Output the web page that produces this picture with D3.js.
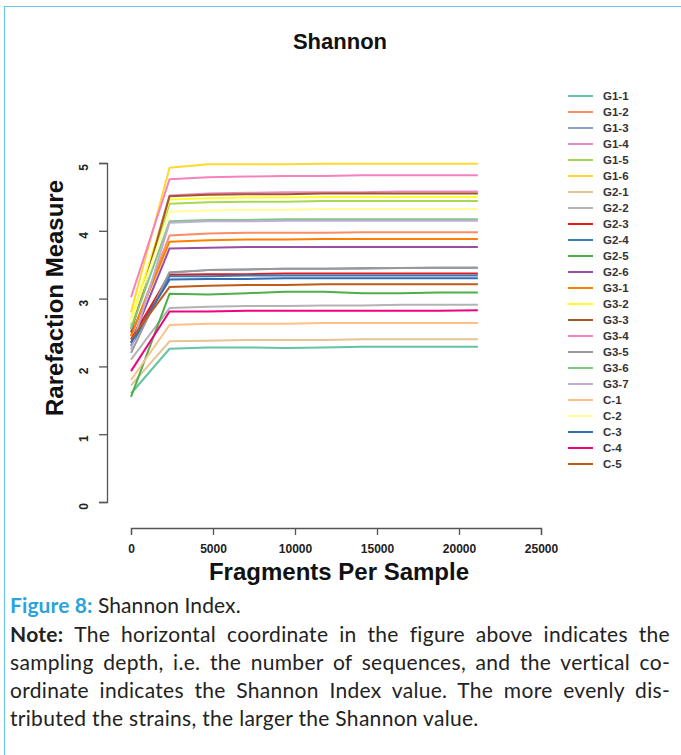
<!DOCTYPE html>
<html>
<head>
<meta charset="utf-8">
<script src="https://cdn.jsdelivr.net/npm/d3@7"></script>
<style>
  body { margin: 0; background: #fff; }
  svg { display: block; }
</style>
</head>
<body>
<svg id="chart"></svg>
<script>
const width = 681;
const height = 755;

// sequencing depths (x)
const depths = [1, 2350, 4700, 7050, 9400, 11750, 14100, 16450, 18800, 21150];

const samples = ["G1-1", "G1-2", "G1-3", "G1-4", "G1-5", "G1-6",
  "G2-1", "G2-2", "G2-3", "G2-4", "G2-5", "G2-6",
  "G3-1", "G3-2", "G3-3", "G3-4", "G3-5", "G3-6", "G3-7",
  "C-1", "C-2", "C-3", "C-4", "C-5"];

const colors = ["#66c2a5", "#fc8d62", "#8da0cb", "#e78ac3", "#a6d854", "#ffd92f",
  "#e5c494", "#b3b3b3", "#e41a1c", "#377eb8", "#4daf4a", "#984ea3",
  "#ff7f00", "#ffff33", "#a65628", "#f781bf", "#999999", "#7fc97f", "#beaed4",
  "#fdc086", "#ffff99", "#386cb0", "#f0027f", "#bf5b17"];

// shannon value at each depth, one row per sample
const shannon = [
  [1.60, 2.26, 2.28, 2.28, 2.27, 2.28, 2.29, 2.29, 2.29, 2.29],
  [2.45, 3.93, 3.96, 3.97, 3.97, 3.97, 3.98, 3.98, 3.98, 3.98],
  [2.30, 3.38, 3.42, 3.43, 3.44, 3.44, 3.44, 3.45, 3.45, 3.45],
  [2.55, 4.52, 4.55, 4.56, 4.57, 4.57, 4.57, 4.58, 4.58, 4.58],
  [2.60, 4.40, 4.42, 4.43, 4.43, 4.44, 4.44, 4.44, 4.44, 4.44],
  [2.80, 4.93, 4.98, 4.98, 4.98, 4.99, 4.99, 4.99, 4.99, 4.99],
  [1.72, 2.37, 2.38, 2.39, 2.39, 2.39, 2.40, 2.40, 2.40, 2.40],
  [2.10, 2.86, 2.88, 2.89, 2.89, 2.90, 2.90, 2.91, 2.91, 2.91],
  [2.40, 3.35, 3.36, 3.36, 3.37, 3.37, 3.37, 3.37, 3.37, 3.37],
  [2.30, 3.33, 3.33, 3.34, 3.34, 3.34, 3.34, 3.34, 3.34, 3.34],
  [1.55, 3.07, 3.06, 3.08, 3.10, 3.10, 3.08, 3.08, 3.09, 3.09],
  [2.35, 3.74, 3.75, 3.76, 3.76, 3.76, 3.76, 3.76, 3.76, 3.76],
  [2.45, 3.84, 3.86, 3.87, 3.87, 3.88, 3.88, 3.88, 3.88, 3.88],
  [2.70, 4.46, 4.48, 4.49, 4.49, 4.50, 4.50, 4.50, 4.50, 4.50],
  [2.50, 4.51, 4.53, 4.54, 4.54, 4.55, 4.55, 4.55, 4.55, 4.55],
  [3.02, 4.76, 4.79, 4.80, 4.81, 4.81, 4.82, 4.82, 4.82, 4.82],
  [2.20, 3.39, 3.42, 3.43, 3.44, 3.44, 3.45, 3.45, 3.46, 3.46],
  [2.55, 4.14, 4.16, 4.16, 4.17, 4.17, 4.17, 4.17, 4.17, 4.17],
  [2.25, 4.12, 4.14, 4.14, 4.15, 4.15, 4.15, 4.15, 4.15, 4.15],
  [1.80, 2.61, 2.63, 2.63, 2.63, 2.64, 2.64, 2.64, 2.64, 2.64],
  [2.65, 4.28, 4.30, 4.31, 4.31, 4.32, 4.32, 4.32, 4.32, 4.32],
  [2.35, 3.28, 3.29, 3.29, 3.30, 3.30, 3.30, 3.30, 3.30, 3.30],
  [1.93, 2.81, 2.81, 2.82, 2.82, 2.82, 2.82, 2.82, 2.82, 2.83],
  [2.40, 3.17, 3.19, 3.20, 3.20, 3.21, 3.21, 3.21, 3.21, 3.21]
];

const xTicks = [0, 5000, 10000, 15000, 20000, 25000];
const yTicks = [0, 1, 2, 3, 4, 5];

const captionLines = [
  "The horizontal coordinate in the figure above indicates the",
  "sampling depth, i.e. the number of sequences, and the vertical co-",
  "ordinate indicates the Shannon Index value. The more evenly dis-",
  "tributed the strains, the larger the Shannon value."
];

const svg = d3.select("#chart")
  .attr("width", width)
  .attr("height", height);

// light blue frame of the figure box
svg.append("path")
  .attr("d", "M4.5,760 L4.5,6.5 L690,6.5")
  .attr("fill", "none")
  .attr("stroke", "#6cc4ea")
  .attr("stroke-width", 1.2);

const font = "'Liberation Sans', Arial, sans-serif";

const xScale = d3.scaleLinear().domain([0, 25000]).range([131, 541]);
const yScale = d3.scaleLinear().domain([0, 5]).range([502, 163]);

// title
svg.append("text")
  .attr("x", 340)
  .attr("y", 49)
  .attr("text-anchor", "middle")
  .attr("font-family", font)
  .attr("font-weight", "bold")
  .attr("font-size", 22)
  .attr("fill", "#111")
  .text("Shannon");

// x axis
const xAxis = svg.append("g")
  .attr("transform", "translate(0,528)")
  .call(d3.axisBottom(xScale).tickValues(xTicks).tickSize(7).tickPadding(9).tickFormat(d3.format("d")));

// y axis
const yAxis = svg.append("g")
  .attr("transform", "translate(107,0)")
  .call(d3.axisLeft(yScale).tickValues(yTicks).tickSize(8).tickFormat(d3.format("d")));

[xAxis, yAxis].forEach(g => {
  g.select(".domain").attr("stroke", "#555").attr("stroke-width", 1.3);
  g.selectAll(".tick line").attr("stroke", "#555").attr("stroke-width", 1.3);
  g.selectAll(".tick text")
    .attr("font-family", font)
    .attr("font-weight", "bold")
    .attr("font-size", 12)
    .attr("fill", "#222");
});

// R style y labels, parallel to the axis
yAxis.selectAll(".tick text")
  .attr("x", null).attr("dy", null)
  .attr("text-anchor", "middle")
  .attr("transform", "translate(-19,4) rotate(-90)")
  .attr("y", 0);

// axis titles
svg.append("text")
  .attr("x", 339)
  .attr("y", 580)
  .attr("text-anchor", "middle")
  .attr("font-family", font)
  .attr("font-weight", "bold")
  .attr("font-size", 24)
  .attr("fill", "#111")
  .text("Fragments Per Sample");

svg.append("text")
  .attr("transform", "translate(63,298) rotate(-90)")
  .attr("text-anchor", "middle")
  .attr("font-family", font)
  .attr("font-weight", "bold")
  .attr("font-size", 24)
  .attr("fill", "#111")
  .text("Rarefaction Measure");

// rarefaction lines
const line = d3.line()
  .x((d, i) => xScale(depths[i]))
  .y(d => yScale(d));

svg.append("g")
  .selectAll("path")
  .data(shannon)
  .enter()
  .append("path")
  .attr("d", line)
  .attr("fill", "none")
  .attr("stroke", (d, i) => colors[i])
  .attr("stroke-width", 2)
  .attr("stroke-linejoin", "round");

// legend
const legend = svg.append("g");
const rows = legend.selectAll("g")
  .data(samples)
  .enter()
  .append("g")
  .attr("transform", (d, i) => `translate(0,${96 + i * 16})`);

rows.append("line")
  .attr("x1", 568).attr("x2", 593)
  .attr("y1", 0).attr("y2", 0)
  .attr("stroke", (d, i) => colors[i])
  .attr("stroke-width", 2);

rows.append("text")
  .attr("x", 603)
  .attr("y", 4)
  .attr("font-family", font)
  .attr("font-weight", "bold")
  .attr("font-size", 11.5)
  .attr("fill", "#333")
  .text(d => d);

// caption
const capFont = "Lato, 'Open Sans', sans-serif";
const capSize = 21;
const cap = svg.append("g");

const figLine = cap.append("text")
  .attr("x", 10).attr("y", 613)
  .attr("font-family", capFont)
  .attr("font-size", capSize)
  .attr("letter-spacing", 0.1)
  .attr("fill", "#222");
figLine.append("tspan").attr("font-weight", "bold").attr("fill", "#2aa3da").text("Figure 8:");
figLine.append("tspan").text(" Shannon Index.");

captionLines.forEach((txt, i) => {
  const t = cap.append("text")
    .attr("x", 10).attr("y", 642 + i * 28)
    .attr("font-family", capFont)
    .attr("font-size", capSize)
    .attr("letter-spacing", 0.3)
    .attr("fill", "#222");
  if (i === 0) {
    t.append("tspan").attr("font-weight", "bold").text("Note: ");
  }
  t.append("tspan").text(txt);
  // justify all lines but the last
  if (i < captionLines.length - 1) {
    const len = t.node().getComputedTextLength();
    const spaces = (i === 0 ? "Note: " + txt : txt).split(" ").length - 1;
    t.attr("word-spacing", (670 - 10 - len) / spaces);
  }
});
</script>
</body>
</html>
